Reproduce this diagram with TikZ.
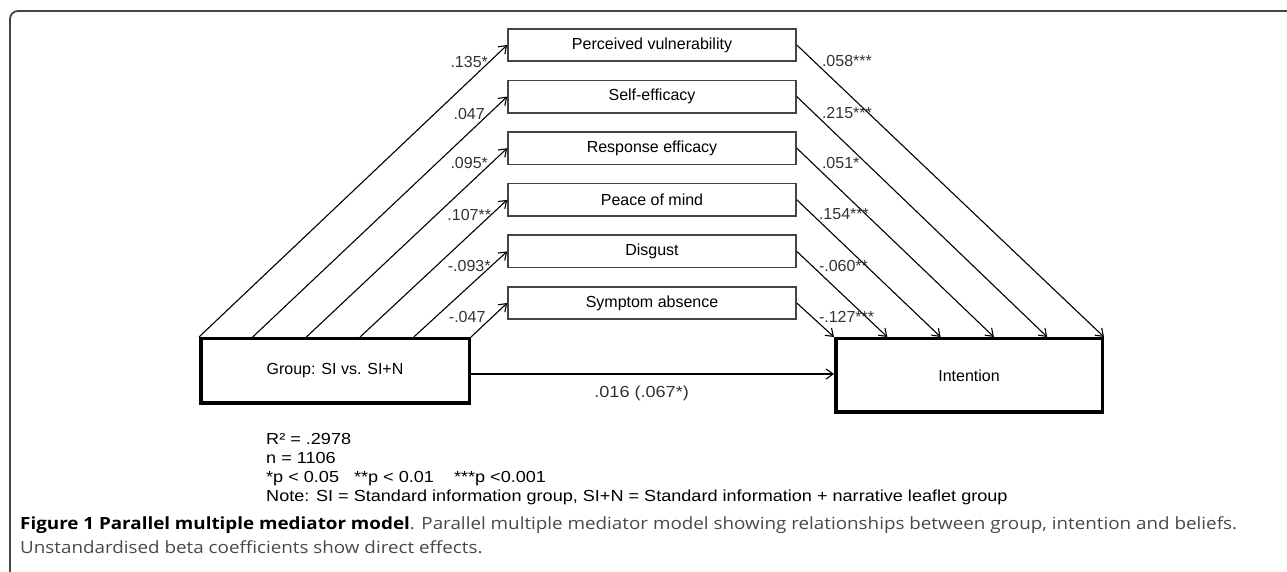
\documentclass[tikz,border=0pt]{standalone}
\usepackage{fontspec}
\setmainfont{Liberation Sans}
\newfontfamily\notefont[FakeStretch=1.13]{Liberation Sans}
\newfontfamily\capfont[FakeStretch=1.12]{Open Sans}
\usepackage{tikz}
\usetikzlibrary{arrows.meta}
\definecolor{boxline}{RGB}{68,68,68}
\definecolor{cfgray}{RGB}{51,51,51}
\definecolor{captxt}{RGB}{72,72,72}

\begin{document}
\begin{tikzpicture}[x=1pt,y=1pt,>={Straight Barb[length=7pt,width=10pt]},node distance=51.6pt,
    every node/.style={font=\fontsize{16}{19}\selectfont},
    med/.style={draw=boxline,line width=1.6pt,minimum width=288pt,minimum height=32.5pt,inner sep=0pt},
    var/.style={draw,line width=3.5pt,inner sep=0pt},
    cf/.style={text=cfgray,inner sep=0pt},
    capt/.style={font=\capfont\fontsize{16.8}{20}\selectfont,text=captxt,inner sep=0pt}]
  \useasboundingbox (0,0) rectangle (1287,572);
  % frame of the figure
  \draw[line width=1.8pt,draw=boxline,rounded corners=8pt] (10,0) -- (10,561) -- (1287,561);

  % mediators
  \node[med] (pv) at (652,527) {Perceived vulnerability};
  \node[med] (se) [below of=pv] {Self-efficacy};
  \node[med] (re) [below of=se] {Response efficacy};
  \node[med] (pm) [below of=re] {Peace of mind};
  \node[med] (dg) [below of=pm] {Disgust};
  \node[med] (sa) [below of=dg] {Symptom absence};

  \node[var,minimum width=268.5pt,minimum height=64.5pt] (grp) at (335,201) {Group: SI vs. SI+N};
  \node[var,minimum width=266.5pt,minimum height=73.5pt] (int) at (969,196.5) {Intention};

  \path[->,line width=1.1pt]
    (grp.north west) edge (pv.west)
    ([xshift=53.7pt]grp.north west) edge (se.west)
    ([xshift=107.4pt]grp.north west) edge (re.west)
    ([xshift=161.1pt]grp.north west) edge (pm.west)
    ([xshift=214.8pt]grp.north west) edge (dg.west)
    (grp.north east) edge (sa.west)
    (pv.east) edge (int.north east)
    (se.east) edge ([xshift=213.2pt]int.north west)
    (re.east) edge ([xshift=159.9pt]int.north west)
    (pm.east) edge ([xshift=106.6pt]int.north west)
    (dg.east) edge ([xshift=53.3pt]int.north west)
    (sa.east) edge (int.north west);
  \draw[->,line width=1.1pt] ([yshift=-3pt]grp.east) -- ([yshift=-3pt]grp.east -| int.west)
    node[cf,font=\notefont\fontsize{16}{19}\selectfont,pos=.47,below=11pt] (d0) {.016 (.067*)};

  % coefficients a
  \node[cf] (l1) at ([shift={(-38,-17)}]pv.west) {.135*};
  \node[cf] (l2) at ([shift={(-38,-17)}]se.west) {.047};
  \node[cf] (l3) at ([shift={(-38,-15)}]re.west) {.095*};
  \node[cf] (l4) at ([shift={(-38,-15)}]pm.west) {.107**};
  \node[cf] (l5) at ([shift={(-38,-15)}]dg.west) {-.093*};
  \node[cf] (l6) at ([shift={(-40,-14)}]sa.west) {-.047};
  % coefficients b
  \node[cf,anchor=west] (r1) at ([shift={(25,-16)}]pv.east) {.058***};
  \node[cf,anchor=west] (r2) at ([shift={(25,-16)}]se.east) {.215***};
  \node[cf,anchor=west] (r3) at ([shift={(25,-15)}]re.east) {.051*};
  \node[cf,anchor=west] (r4) at ([shift={(22,-14)}]pm.east) {.154***};
  \node[cf,anchor=west] (r5) at ([shift={(22,-15)}]dg.east) {-.060**};
  \node[cf,anchor=west] (r6) at ([shift={(22,-14)}]sa.east) {-.127***};

  \node[anchor=north west,align=left,inner sep=0pt,font=\notefont\fontsize{16}{19}\selectfont] (nt) at (266,139.3)
    {R² = .2978\\ n = 1106\\ *p < 0.05\hspace{10pt} **p < 0.01\hspace{15pt} ***p <0.001\\
     Note: SI = Standard information group, SI+N = Standard information + narrative leaflet group};

  \node[capt,anchor=base west] (cap1) at (20,42)
    {{\color{black}\bfseries Figure 1 Parallel multiple mediator model}. Parallel multiple mediator model showing relationships between group, intention and beliefs.};
  \node[capt,anchor=base west] (cap2) at (20,18.3) {Unstandardised beta coefficients show direct effects.};
\end{tikzpicture}
\end{document}
